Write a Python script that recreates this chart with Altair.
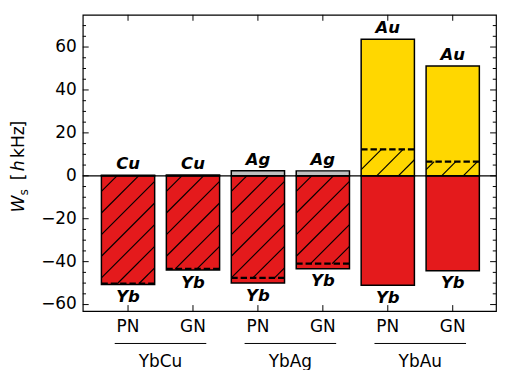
import json
import altair as alt
import pandas as pd

# ---------------- data ----------------
cats = ["PN", "GN", "PN", "GN", "PN", "GN"]
groups = ["YbCu", "YbAg", "YbAu"]
metals = ["Cu", "Cu", "Ag", "Ag", "Au", "Au"]
metal_colors = ["#B87333", "#B87333", "#C0C0C0", "#C0C0C0", "#FFD700", "#FFD700"]
yb_vals = [-50.6, -43.9, -50.0, -43.3, -51.0, -44.2]
m_vals = [0.3, 0.4, 2.4, 2.3, 63.6, 51.2]
net_vals = [-50.3, -43.4, -47.6, -40.9, 12.3, 6.6]
y_major = [-60, -40, -20, 0, 20, 40, 60]

# ---------------- layout / style ----------------
W, H = 420, 301
YMIN, YMAX = -63, 75
X0, STEP = 46, 66
XMIN, XMAX = -X0 / STEP, (W - X0) / STEP
HALF = 0.41
RED = "#E41A1C"
FONT = "DejaVu Sans"
FS = 17.2
LFS = 16.7
HATCH = 22.0
PHASE = 0.3

xs = list(range(len(cats)))
y_minor = [v for v in range(-60, 75, 5) if v not in y_major]

xscale = alt.Scale(domain=[XMIN, XMAX], nice=False, zero=False)
yscale = alt.Scale(domain=[YMIN, YMAX], nice=False, zero=False)
sy = H / (YMAX - YMIN)

# bars
bar_rows = []
for i in xs:
    bar_rows.append(dict(x0=i - HALF, x1=i + HALF, y0=0, y1=yb_vals[i], c=RED))
    bar_rows.append(dict(x0=i - HALF, x1=i + HALF, y0=0, y1=m_vals[i], c=metal_colors[i]))
bars_df = pd.DataFrame(bar_rows)

# hatch segments (45 deg in pixel space) over 0..net
def px(i):
    return (i - XMIN) * STEP

def py(v):
    return (YMAX - v) * sy

hatch_rows = []
for i in xs:
    lo, hi = min(0, net_vals[i]), max(0, net_vals[i])
    x0p, x1p = px(i - HALF), px(i + HALF)
    y0p, y1p = py(hi), py(lo)
    cmin, cmax = x0p + y0p, x1p + y1p
    k = int((cmin - PHASE) // HATCH)
    while True:
        c = PHASE + k * HATCH
        k += 1
        if c > cmax:
            break
        s = max(x0p, c - y1p)
        e = min(x1p, c - y0p)
        if e - s > 0.5:
            hatch_rows.append(dict(
                xa=s / STEP + XMIN, ya=YMAX - (c - s) / sy,
                xb=e / STEP + XMIN, yb=YMAX - (c - e) / sy))
hatch_df = pd.DataFrame(hatch_rows)

net_df = pd.DataFrame(dict(x0=[i - HALF for i in xs], x1=[i + HALF for i in xs], y=net_vals))
top_df = pd.DataFrame(dict(x=xs, y=m_vals, t=metals))
bot_df = pd.DataFrame(dict(x=xs, y=yb_vals, t=["Yb"] * len(xs)))
grp_df = pd.DataFrame(dict(x=[2 * g + 0.5 for g in range(len(groups))], t=groups))
ymaj_df = pd.DataFrame(dict(v=y_major, t=[str(v).replace("-", "\u2212") for v in y_major]))
ymin_df = pd.DataFrame(dict(v=y_minor))
xt_df = pd.DataFrame(dict(x=xs, t=cats))

X = lambda f: alt.X(f, scale=xscale, axis=None)
Y = lambda f: alt.Y(f, scale=yscale, axis=None)

bars = alt.Chart(bars_df).mark_bar(stroke="black", strokeWidth=1.5).encode(
    x=X("x0:Q"), x2="x1:Q", y=Y("y0:Q"), y2="y1:Q",
    fill=alt.Fill("c:N", scale=None),
)

hatch = alt.Chart(hatch_df).mark_rule(color="black", strokeWidth=1.2).encode(
    x=X("xa:Q"), x2="xb:Q", y=Y("ya:Q"), y2="yb:Q")

dashed = alt.Chart(net_df).mark_rule(color="black", strokeWidth=2.3, strokeDash=[6.5, 3]).encode(
    x=X("x0:Q"), x2="x1:Q", y=Y("y:Q"))

zero = alt.Chart(pd.DataFrame(dict(v=[0]))).mark_rule(color="black", strokeWidth=1.2).encode(
    y=Y("v:Q"))

def yticks(df, length):
    left = alt.Chart(df).mark_rule(color="black", strokeWidth=1).encode(
        y=Y("v:Q"), x=alt.value(0), x2=alt.value(length))
    right = alt.Chart(df).mark_rule(color="black", strokeWidth=1).encode(
        y=Y("v:Q"), x=alt.value(W - length), x2=alt.value(W))
    return left + right

xticks_top = alt.Chart(xt_df).mark_rule(color="black", strokeWidth=1).encode(
    x=X("x:Q"), y=alt.value(0), y2=alt.value(6))
xticks_bot = alt.Chart(xt_df).mark_rule(color="black", strokeWidth=1).encode(
    x=X("x:Q"), y=alt.value(H - 6), y2=alt.value(H))

ylabels = alt.Chart(ymaj_df).mark_text(font=FONT, fontSize=FS, align="right", baseline="middle",
                                       color="black").encode(
    y=Y("v:Q"), x=alt.value(-6), text="t:N")
xlabels = alt.Chart(xt_df).mark_text(font=FONT, fontSize=FS, baseline="middle", color="black").encode(
    x=X("x:Q"), y=alt.value(H + 16), text="t:N")

top_lbl = alt.Chart(top_df).mark_text(font=FONT, fontSize=LFS, fontStyle="italic", fontWeight="bold",
                                      baseline="bottom", dy=-2, color="black").encode(
    x=X("x:Q"), y=Y("y:Q"), text="t:N")
bot_lbl = alt.Chart(bot_df).mark_text(font=FONT, fontSize=LFS, fontStyle="italic", fontWeight="bold",
                                      baseline="top", dy=5, color="black").encode(
    x=X("x:Q"), y=Y("y:Q"), text="t:N")

grp_line = alt.Chart(grp_df).transform_calculate(a="datum.x - 0.705", b="datum.x + 0.705").mark_rule(
    color="black", strokeWidth=1).encode(
    x=X("a:Q"), x2="b:Q", y=alt.value(H + 33))
grp_txt = alt.Chart(grp_df).mark_text(font=FONT, fontSize=FS, baseline="middle", color="black").encode(
    x=X("x:Q"), y=alt.value(H + 52), text="t:N")

# y-axis title pieces: W_s [h kHz]
TFS = 17.5
def tpiece(txt, ypos, xpos=-60, size=TFS, style="normal"):
    return alt.Chart(pd.DataFrame(dict(t=[txt]))).mark_text(
        font=FONT, fontSize=size, fontStyle=style, angle=270, align="left",
        baseline="alphabetic", color="black").encode(
        x=alt.value(xpos), y=alt.value(ypos), text="t:N")

title = (tpiece("W", 201, style="italic")
         + tpiece("s", 183.5, xpos=-56, size=12.5)
         + tpiece("[", 168)
         + tpiece("h", 159, style="italic")
         + tpiece("kHz", 145.5)
         + tpiece("]", 114.5))

chart = alt.layer(
    bars, hatch, dashed, zero,
    yticks(ymaj_df, 6), yticks(ymin_df, 3.3),
    xticks_top, xticks_bot, ylabels, xlabels,
    top_lbl, bot_lbl, grp_line, grp_txt, title,
).properties(
    width=W, height=H,
    autosize=alt.AutoSizeParams(type="none"),
    padding={"left": 76, "top": 4, "right": 1, "bottom": 57},
).configure_view(stroke="black", strokeWidth=1.2)

chart.save("out.html", embed_options={"renderer": "svg", "actions": False})
